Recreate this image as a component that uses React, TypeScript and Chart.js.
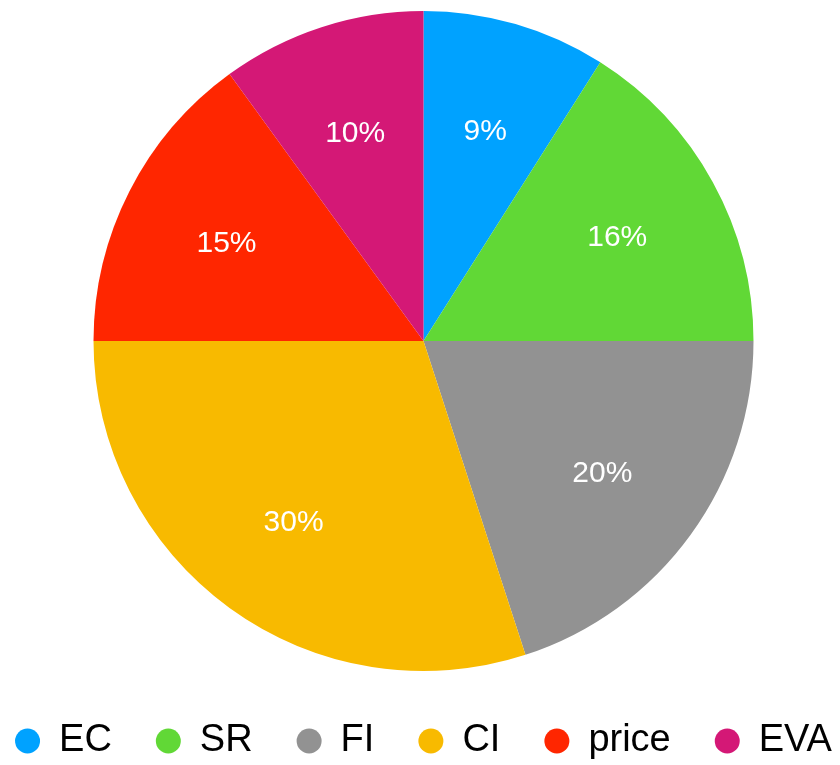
import React, { useEffect, useRef } from "react";
import { Chart, registerables } from "chart.js";

Chart.register(...registerables);

const categories = ["EC", "SR", "FI", "CI", "price", "EVA"];
const shares = [9, 16, 20, 30, 15, 10];
const colors = ["#00A2FF", "#61D836", "#929292", "#F8BA00", "#FF2600", "#D41876"];

const FONT = "'Liberation Sans', Arial, Helvetica, sans-serif";

const sliceLabels = {
  id: "sliceLabels",
  afterDatasetsDraw(chart: any) {
    const ctx = chart.ctx;
    const meta = chart.getDatasetMeta(0);
    const data = chart.data.datasets[0].data as number[];
    ctx.save();
    ctx.fillStyle = "#ffffff";
    ctx.font = `30px ${FONT}`;
    ctx.textAlign = "center";
    ctx.textBaseline = "middle";
    meta.data.forEach((arc: any, i: number) => {
      const p = arc.getProps(["x", "y", "startAngle", "endAngle", "outerRadius"], true);
      const mid = (p.startAngle + p.endAngle) / 2;
      const r = p.outerRadius * 0.67;
      ctx.fillText(`${data[i]}%`, p.x + Math.cos(mid) * r, p.y + Math.sin(mid) * r + 3);
    });
    ctx.restore();
  },
};

export default function App() {
  const ref = useRef<HTMLCanvasElement>(null);
  useEffect(() => {
    if (!ref.current) return;
    const chart = new Chart(ref.current, {
      type: "pie",
      data: {
        labels: categories,
        datasets: [
          {
            data: shares,
            backgroundColor: colors,
            borderWidth: 0,
            radius: 330,
          },
        ],
      },
      options: {
        responsive: false,
        animation: false,
        layout: { padding: { top: 4, left: 7, right: 0, bottom: 0 } },
        plugins: {
          tooltip: { enabled: false },
          legend: {
            position: "bottom",
            labels: {
              usePointStyle: true,
              pointStyle: "circle",
              pointStyleWidth: 25,
              boxHeight: 17.7,
              padding: 44,
              color: "#000000",
              font: { size: 38, family: FONT },
            },
          },
        },
      },
      plugins: [sliceLabels],
    });
    return () => chart.destroy();
  }, []);
  return (
    <div style={{ position: "fixed", left: -40, top: 0, width: 920, height: 770, background: "#fff" }}>
      <canvas ref={ref} width={920} height={770} style={{ display: "block" }} />
    </div>
  );
}
